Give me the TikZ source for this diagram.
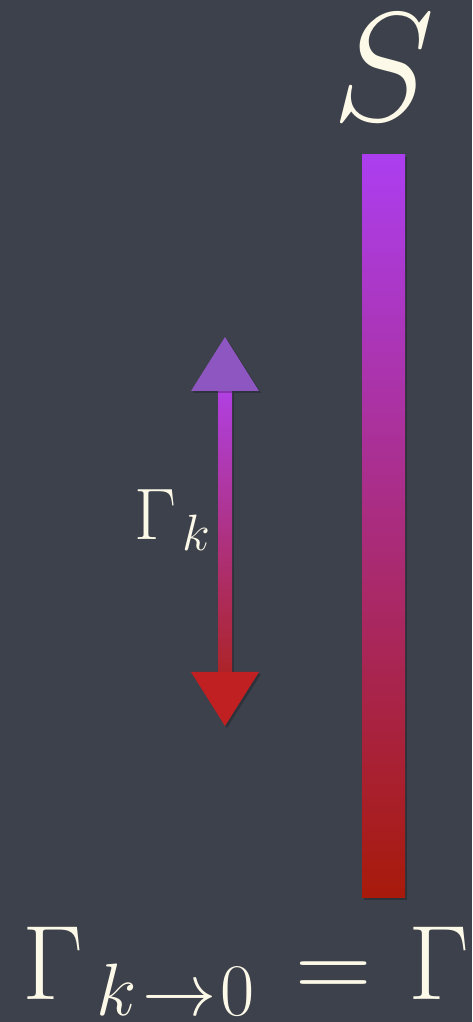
\RequirePackage{fix-cm}
\documentclass[tikz,border=0pt]{standalone}
\definecolor{board}{RGB}{60,65,75}
\definecolor{chalk}{RGB}{253,249,232}
\definecolor{bartop}{RGB}{172,62,240}
\definecolor{barbot}{RGB}{168,26,10}
\definecolor{headtop}{RGB}{142,86,192}
\definecolor{headbot}{RGB}{192,32,34}
\definecolor{shafttop}{RGB}{176,64,226}
\definecolor{shaftbot}{RGB}{172,36,40}
\tikzset{
  lbl/.style={text=chalk, inner sep=0pt},
  shadowed/.style={fill=black, opacity=0.22},
}
\begin{document}
\begin{tikzpicture}[x=1pt,y=1pt]
\useasboundingbox (0,0) rectangle (472,1022);
\fill[board] (0,0) rectangle (472,1022);
% bar
\fill[shadowed] (364,122) rectangle (407,865);
\shade[top color=bartop, bottom color=barbot] (362,124) rectangle (405,867);
% double arrow
\fill[shadowed] (220,348) rectangle (234,629);
\shade[top color=shafttop, bottom color=shaftbot] (218,350) rectangle (232,631);
\fill[shadowed] (193,629) -- (261,629) -- (227,683) -- cycle;
\fill[headtop] (191,631) -- (259,631) -- (225,685) -- cycle;
\fill[shadowed] (193,348) -- (261,348) -- (227,294) -- cycle;
\fill[headbot] (191,350) -- (259,350) -- (225,296) -- cycle;
% labels
\node[lbl, anchor=base] (S) at (384,901) {\fontsize{155}{155}\selectfont $S$};
\node[lbl, anchor=base west] (Gk) at (134,482) {\fontsize{73}{73}\selectfont $\Gamma_{\hspace{6pt}k}$};
\node[lbl, anchor=base west] (G0) at (22,22) {\fontsize{106}{106}\selectfont $\Gamma_{\raisebox{3pt}{$\scriptstyle\hspace{13pt}k\hspace{6pt}\to\hspace{4pt}0$}}\hspace{11pt}=\hspace{7pt}\Gamma$};
\end{tikzpicture}
\end{document}
